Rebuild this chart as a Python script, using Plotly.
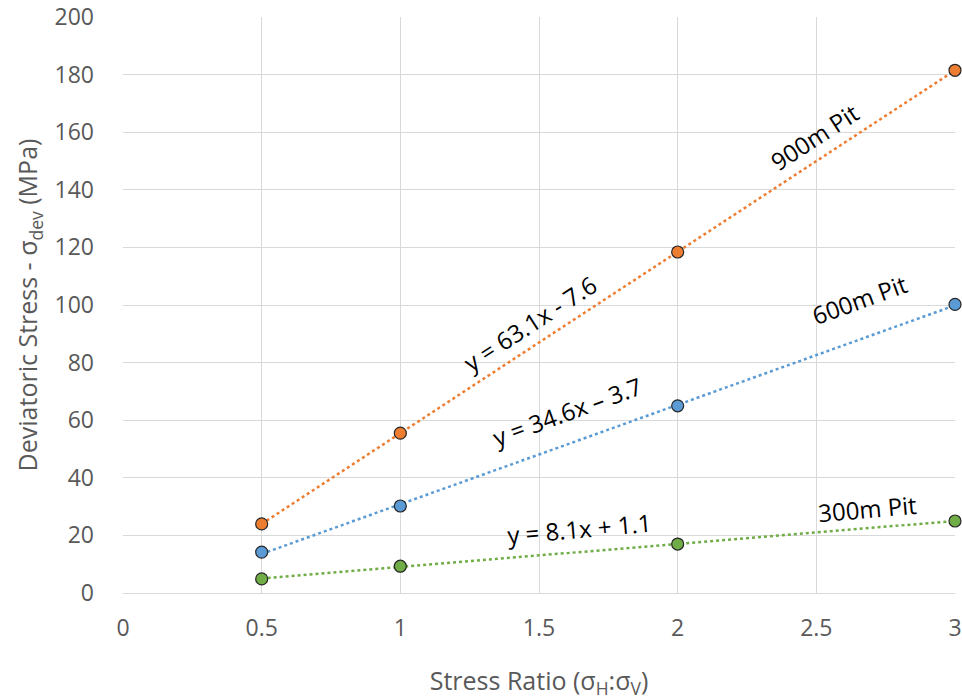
import numpy as np
import plotly.graph_objects as go

stress_ratio = [0.5, 1, 2, 3]
pit_900 = [24.0, 55.5, 118.4, 181.5]
pit_600 = [14.2, 30.2, 65.0, 100.2]
pit_300 = [4.9, 9.3, 17.0, 25.0]

series = [
    ("900m Pit", pit_900, "#ED7D31"),
    ("600m Pit", pit_600, "#5B9BD5"),
    ("300m Pit", pit_300, "#70AD47"),
]

fig = go.Figure()
xs = np.array(stress_ratio, dtype=float)
for name, ys, col in series:
    m, b = np.polyfit(xs, np.array(ys), 1)
    xl = np.array([xs.min(), xs.max()])
    fig.add_trace(go.Scatter(x=xl, y=m * xl + b, mode="lines",
                             line=dict(color=col, width=2.5, dash="dot"),
                             showlegend=False, hoverinfo="skip", cliponaxis=False))
    fig.add_trace(go.Scatter(x=stress_ratio, y=ys, mode="markers", name=name,
                             marker=dict(color=col, size=12,
                                         line=dict(color="#262626", width=1.2)),
                             showlegend=False, cliponaxis=False))

font_txt = "Open Sans, Liberation Sans, sans-serif"
labels = [
    ("y = 63.1x - 7.6", 1.466, 93.5, -33),
    ("900m Pit", 2.495, 158.5, -33),
    ("y = 34.6x \u2013 3.7", 1.60, 63, -20),
    ("600m Pit", 2.655, 102, -20),
    ("y = 8.1x + 1.1", 1.645, 22.5, -5),
    ("300m Pit", 2.685, 29.5, -5),
]
for t, x, y, a in labels:
    fig.add_annotation(x=x, y=y, text=t, showarrow=False, textangle=a,
                       font=dict(size=24, color="#000000", family=font_txt))

axis_common = dict(showgrid=True, gridcolor="#D9D9D9", gridwidth=1,
                   zeroline=False, ticks="", automargin=False,
                   ticklabeloverflow="allow",
                   tickfont=dict(size=23, color="#595959", family=font_txt))

fig.update_layout(
    width=962, height=700,
    margin=dict(l=123, r=7, t=17, b=107),
    paper_bgcolor="white", plot_bgcolor="white",
    font=dict(family=font_txt),
    xaxis=dict(range=[0, 3], dtick=0.5, tick0=0,
               showline=True, linecolor="#D9D9D9", linewidth=1,
               ticklabelstandoff=14,
               title=dict(text="Stress Ratio (σ<sub>H</sub>:σ<sub>V</sub>)",
                          font=dict(size=25, color="#595959", family=font_txt),
                          standoff=41),
               **axis_common),
    yaxis=dict(range=[0, 200], dtick=20, tick0=0, showline=False,
               ticklabelstandoff=28,
               title=dict(text="Deviatoric Stress - σ<sub>dev</sub> (MPa)",
                          font=dict(size=25, color="#595959", family=font_txt),
                          standoff=9),
               **axis_common),
)

fig.write_html(
    "out.html",
    config={"displayModeBar": False},
    post_script="document.body.style.margin='0';document.body.style.overflow='hidden';",
)
